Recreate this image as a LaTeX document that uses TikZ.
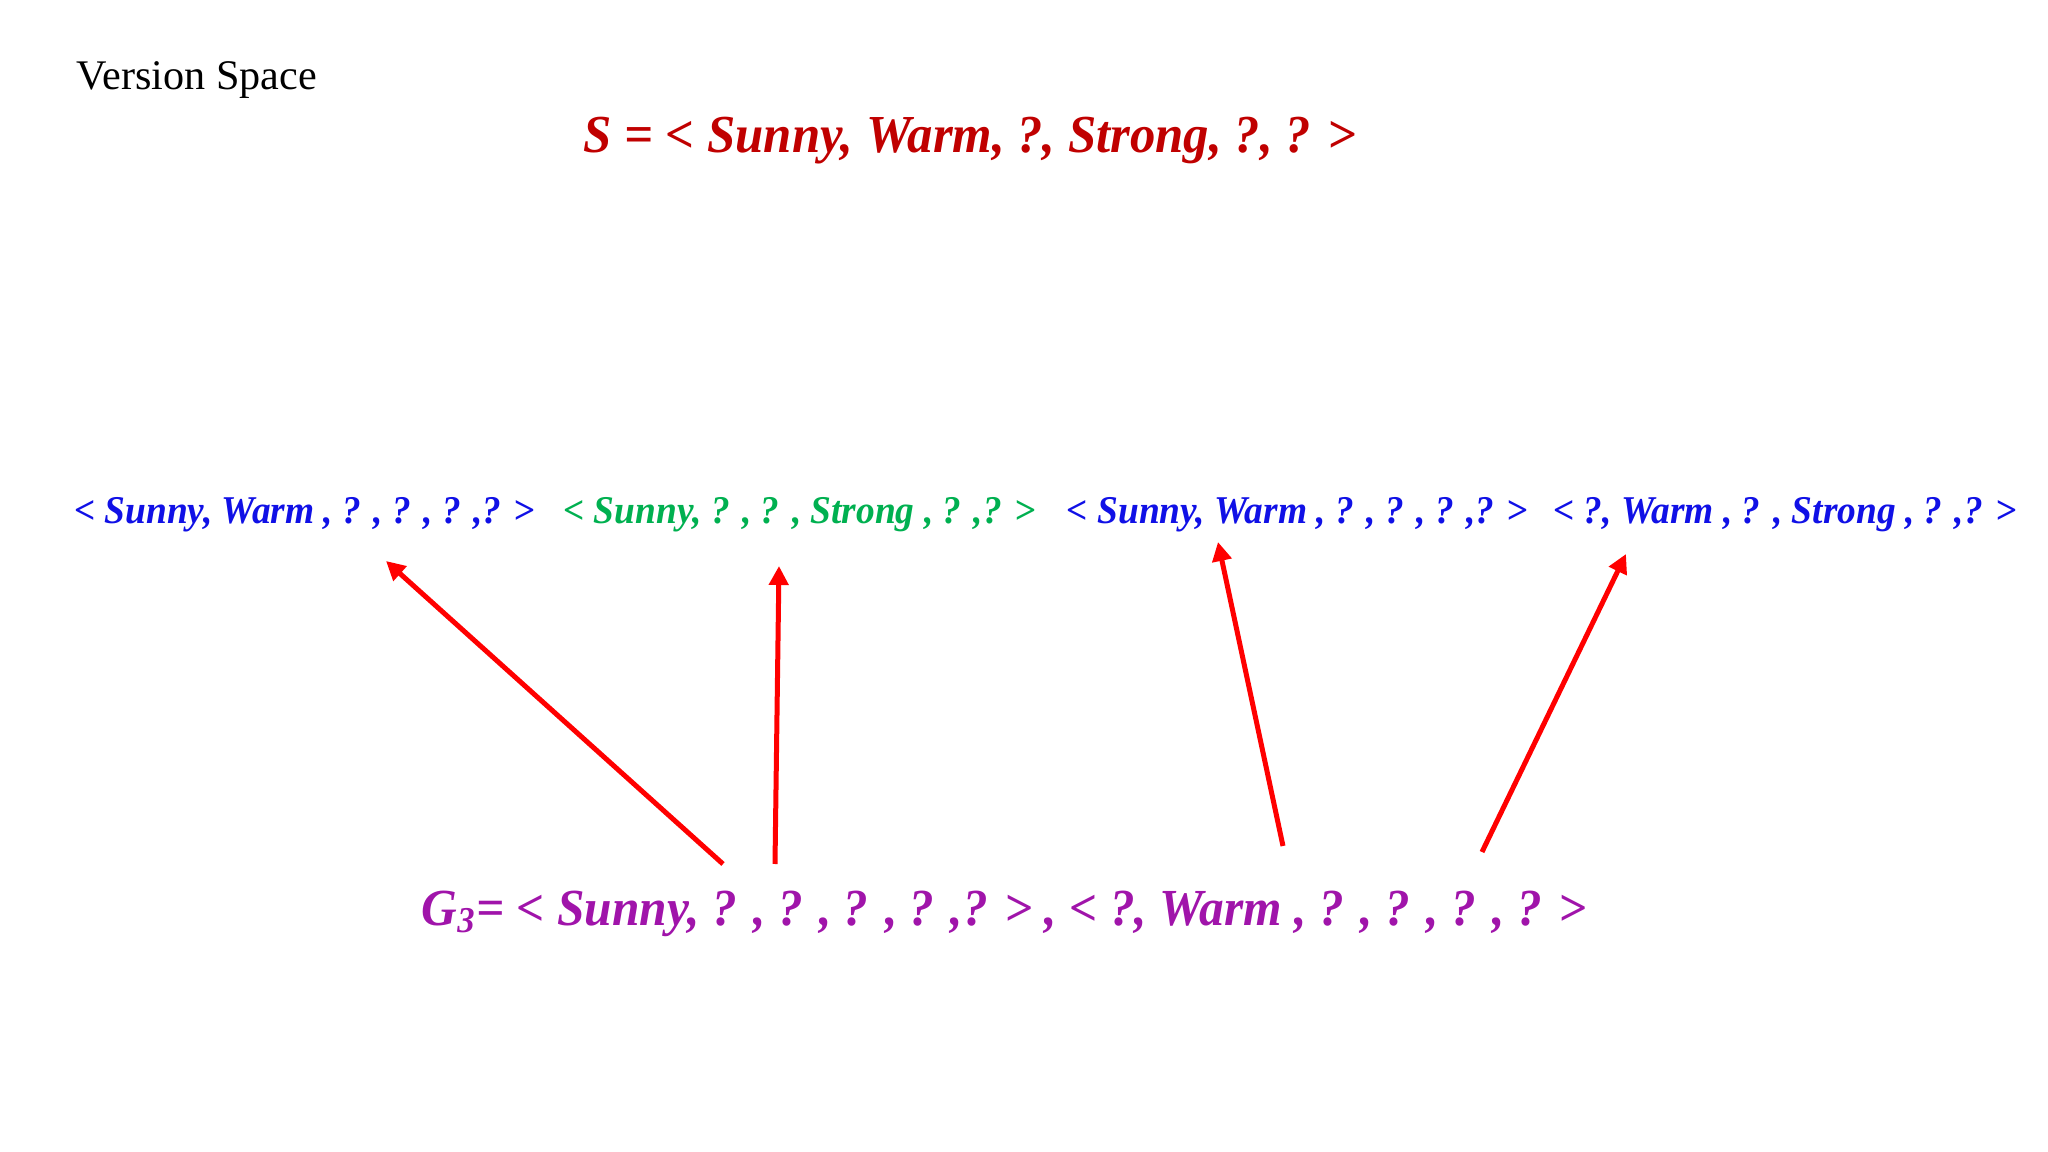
\documentclass[tikz,border=0pt]{standalone}
\usepackage{fontspec}
\setmainfont{Liberation Serif}
\newfontfamily\narrowserif[FakeStretch=0.95]{Liberation Serif}
\usetikzlibrary{positioning,arrows.meta}

\definecolor{sred}{RGB}{192,0,0}
\definecolor{hblue}{RGB}{16,16,230}
\definecolor{hgreen}{RGB}{0,176,80}
\definecolor{gpurple}{RGB}{160,20,170}

\begin{document}
\begin{tikzpicture}[
                    bignode/.style={inner sep=0pt, outer sep=0pt, font=\narrowserif\bfseries\itshape},
                    hypnode/.style={inner sep=0pt, outer sep=0pt, font=\narrowserif\fontsize{11.2pt}{13pt}\selectfont\bfseries\itshape},
                    redarrow/.style={draw=red, line width=0.5mm, -{Triangle[length=1.9mm,width=1.9mm]}}
                ]
                    \useasboundingbox (0,0) rectangle (20.48,-11.52);
                    \node[inner sep=0pt, anchor=base west, font=\fontsize{12pt}{14pt}\selectfont] (title) at (0.76,-0.90) {Version Space};
                    \node[bignode, text=sred, anchor=base] (s) at (9.70,-1.53) {\fontsize{15.2pt}{18pt}\selectfont S = < Sunny, Warm, ?, Strong, ?, ? >};
                    \node[hypnode, text=hblue, anchor=base west] (hone) at (0.74,-5.24) {< Sunny, Warm , ? , ? , ? ,? >};
                    \node[hypnode, text=hgreen] (htwo) [base right=0.28cm of hone] {< Sunny, ? , ? , Strong , ? ,? >};
                    \node[hypnode, text=hblue] (hthree) [base right=0.31cm of htwo] {< Sunny, Warm , ? , ? , ? ,? >};
                    \node[hypnode, text=hblue] (hfour) [base right=0.25cm of hthree] {< ?, Warm , ? , Strong , ? ,? >};
                    \node[bignode, text=gpurple, anchor=base] (g) at (10.04,-9.25) {\fontsize{14.8pt}{18pt}\selectfont G\textsubscript{3}= < Sunny, ? , ? , ? , ? ,? > , < ?, Warm , ? , ? , ? , ? >};
                    % arrow ends
                    \coordinate (gone) at (7.23,-8.64);
                    \coordinate (gtwo) at (7.75,-8.64);
                    \coordinate (gthree) at (12.83,-8.46);
                    \coordinate (gfour) at (14.82,-8.52);
                    \coordinate (tone) at (3.86,-5.61);
                    \coordinate (ttwo) at (7.79,-5.66);
                    \coordinate (tthree) at (12.18,-5.42);
                    \coordinate (tfour) at (16.26,-5.54);
                    \draw[redarrow] (gone) -- (tone);
                    \draw[redarrow] (gtwo) -- (ttwo);
                    \draw[redarrow] (gthree) -- (tthree);
                    \draw[redarrow] (gfour) -- (tfour);
                \end{tikzpicture}
\end{document}
